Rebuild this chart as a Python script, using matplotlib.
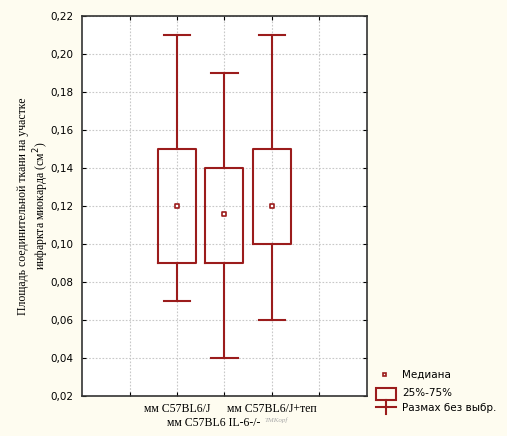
import matplotlib.pyplot as plt
from matplotlib.patches import Rectangle

# box statistics
positions = [2, 3, 4]
labels = ["мм C57BL6/J", "мм C57BL6 IL-6-/-", "мм C57BL6/J+теп"]
medians = [0.120, 0.116, 0.120]
q1 = [0.090, 0.090, 0.100]
q3 = [0.150, 0.140, 0.150]
whis_lo = [0.070, 0.040, 0.060]
whis_hi = [0.210, 0.190, 0.210]

RED = "#9b1c1c"
BG = "#fefcf0"

fig = plt.figure(figsize=(5.07, 4.36), dpi=100)
fig.patch.set_facecolor(BG)
ax = fig.add_axes([82 / 507, 1 - 396 / 436, (367 - 82) / 507, (396 - 16) / 436])
ax.set_facecolor("white")

stats = []
for i in range(len(positions)):
    stats.append(dict(med=medians[i], q1=q1[i], q3=q3[i],
                      whislo=whis_lo[i], whishi=whis_hi[i], fliers=[]))

ax.bxp(stats, positions=positions, widths=0.8, capwidths=0.55,
       showfliers=False, manage_ticks=False,
       boxprops=dict(color=RED, linewidth=1.5),
       whiskerprops=dict(color=RED, linewidth=1.5),
       capprops=dict(color=RED, linewidth=1.5),
       medianprops=dict(linestyle="none"))
ax.scatter(positions, medians, marker="s", s=10, facecolor="white",
           edgecolor=RED, linewidth=1.2, zorder=5)

ax.set_xlim(0, 6)
ax.set_ylim(0.02, 0.22)
yt = [0.02 + 0.02 * k for k in range(11)]
ax.set_yticks(yt)
ax.set_yticklabels([f"{v:.2f}".replace(".", ",") for v in yt],
                   fontsize=7.5, family="DejaVu Sans")
ax.set_xticks([1, 2, 3, 4, 5])
ax.set_xticklabels(["", labels[0], "", labels[2], ""],
                   fontsize=8.5, family="Liberation Serif")
ax.tick_params(direction="in", length=3, top=True, right=True, pad=5)
ax.tick_params(axis="y", pad=6)
ax.grid(True, color="#c8c8c8", linestyle=(0, (1.5, 1.5)), linewidth=0.8)
ax.set_axisbelow(True)
for s in ax.spines.values():
    s.set_color("#333333")
    s.set_linewidth(1.2)

# second-row label with faded superscript
ax.annotate(labels[1], xy=(positions[1], 0), xycoords=("data", "axes fraction"),
            xytext=(-8, -19.5), textcoords="offset points", ha="center", va="center",
            fontsize=8.5, family="Liberation Serif")
ax.annotate("TMKopf", xy=(positions[1], 0), xycoords=("data", "axes fraction"),
            xytext=(29, -17.5), textcoords="offset points", ha="left", va="center",
            fontsize=5, color="#aaaaaa", family="Liberation Serif", style="italic")

ax.set_ylabel("Площадь соединительной ткани на участке\nинфаркта миокарда (см$^2$)",
              fontsize=8.5, family="Liberation Serif")
ax.yaxis.set_label_coords(-0.108, 0.5)

# legend drawn in pixel space
lg = fig.add_axes([370 / 507, 1 - 420 / 436, 137 / 507, 56 / 436])
lg.set_xlim(370, 507)
lg.set_ylim(420, 364)
lg.axis("off")
lg.add_patch(Rectangle((382.5, 373.5), 3, 3, fill=False, edgecolor=RED, linewidth=1.2))
lg.add_patch(Rectangle((376, 388), 20, 12, fill=False, edgecolor=RED, linewidth=1.5))
lg.plot([376, 396], [407, 407], color=RED, linewidth=1.5)
lg.plot([386, 386], [400, 414], color=RED, linewidth=1.5)
for ty, txt in zip([375, 393, 408], ["Медиана", "25%-75%", "Размах без выбр."]):
    lg.text(402, ty, txt, fontsize=7.5, family="DejaVu Sans", va="center")

fig.savefig("out.png", dpi=100, facecolor=BG)
